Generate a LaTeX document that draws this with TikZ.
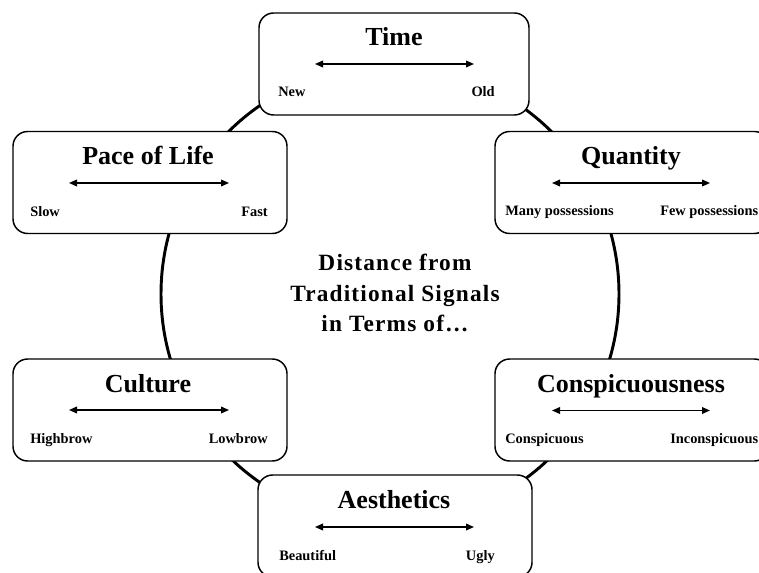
\documentclass[tikz,border=0pt]{standalone}
\usepackage{fontspec}
\setmainfont{Liberation Serif}
\usetikzlibrary{arrows.meta}

\begin{document}
\begin{tikzpicture}[x=0.75pt, y=-0.75pt]
        \def\px{0.75pt}
        \tikzstyle{ring}=[circle, draw=black, line width=2.2pt, inner sep=0pt, minimum size=458*\px]
        \tikzstyle{box}=[draw=black, line width=1.1pt, rounded corners=11pt, fill=white, minimum height=102*\px]
        \tikzstyle{heading}=[inner sep=0pt, anchor=base, font=\bfseries\fontsize{19.5}{24}\selectfont]
        \tikzstyle{pole}=[inner sep=0pt, font=\bfseries\fontsize{10.8}{12}\selectfont]
        \tikzstyle{twoway}=[{Triangle[length=6pt,width=5pt]}-{Triangle[length=6pt,width=5pt]}, line width=1.1pt]
        \tikzstyle{centre}=[align=center, font=\bfseries\fontsize{17.5}{23}\selectfont\addfontfeatures{LetterSpace=5}]

        \useasboundingbox (0,0) rectangle (759,573);

        % Circle behind the boxes
        \node at (390,294) [ring] (ring) {};

        % Middle text
        \node at (395,293) [centre] (middle) {Distance from\\Traditional Signals\\in Terms of\ldots};

        % Time
        \node at (394,64) [box, minimum width=270*\px] (time) {};
        \node at (394,46) [heading] (time_title) {Time};
        \coordinate (time_l) at (315,64);
        \coordinate (time_r) at (474,64);
        \draw [twoway] (time_l) -- (time_r);
        \node at (278,97) [pole, anchor=base west] (time_a) {New};
        \node at (495,97) [pole, anchor=base east] (time_b) {Old};

        % Pace of Life
        \node at (150,182.5) [box, minimum width=274*\px] (pace) {};
        \node at (148,164.5) [heading] (pace_title) {Pace of Life};
        \coordinate (pace_l) at (69,183);
        \coordinate (pace_r) at (229,183);
        \draw [twoway] (pace_l) -- (pace_r);
        \node at (30,216.5) [pole, anchor=base west] (pace_a) {Slow};
        \node at (268,216.5) [pole, anchor=base east] (pace_b) {Fast};

        % Quantity
        \node at (632,182.5) [box, minimum width=274*\px] (quantity) {};
        \node at (631,164.5) [heading] (quantity_title) {Quantity};
        \coordinate (quantity_l) at (552,183);
        \coordinate (quantity_r) at (710,183);
        \draw [twoway] (quantity_l) -- (quantity_r);
        \node at (505,216) [pole, anchor=base west] (quantity_a) {Many possessions};
        \node at (660,216) [pole, anchor=base west] (quantity_b) {Few possessions};

        % Culture
        \node at (150,410) [box, minimum width=274*\px] (culture) {};
        \node at (148,392) [heading] (culture_title) {Culture};
        \coordinate (culture_l) at (69,410);
        \coordinate (culture_r) at (229,410);
        \draw [twoway] (culture_l) -- (culture_r);
        \node at (30,443) [pole, anchor=base west] (culture_a) {Highbrow};
        \node at (268,443) [pole, anchor=base east] (culture_b) {Lowbrow};

        % Conspicuousness
        \node at (632,410) [box, minimum width=274*\px] (consp) {};
        \node at (631,392) [heading] (consp_title) {Conspicuousness};
        \coordinate (consp_l) at (552,410.5);
        \coordinate (consp_r) at (710,410.5);
        \draw [twoway] (consp_l) -- (consp_r);
        \node at (505,443) [pole, anchor=base west] (consp_a) {Conspicuous};
        \node at (670,443) [pole, anchor=base west] (consp_b) {Inconspicuous};

        % Aesthetics
        \node at (395,526) [box, minimum width=274*\px] (aesth) {};
        \node at (394,508.5) [heading] (aesth_title) {Aesthetics};
        \coordinate (aesth_l) at (315,527);
        \coordinate (aesth_r) at (474,527);
        \draw [twoway] (aesth_l) -- (aesth_r);
        \node at (279,560) [pole, anchor=base west] (aesth_a) {Beautiful};
        \node at (495,560) [pole, anchor=base east] (aesth_b) {Ugly};

\end{tikzpicture}
\end{document}
